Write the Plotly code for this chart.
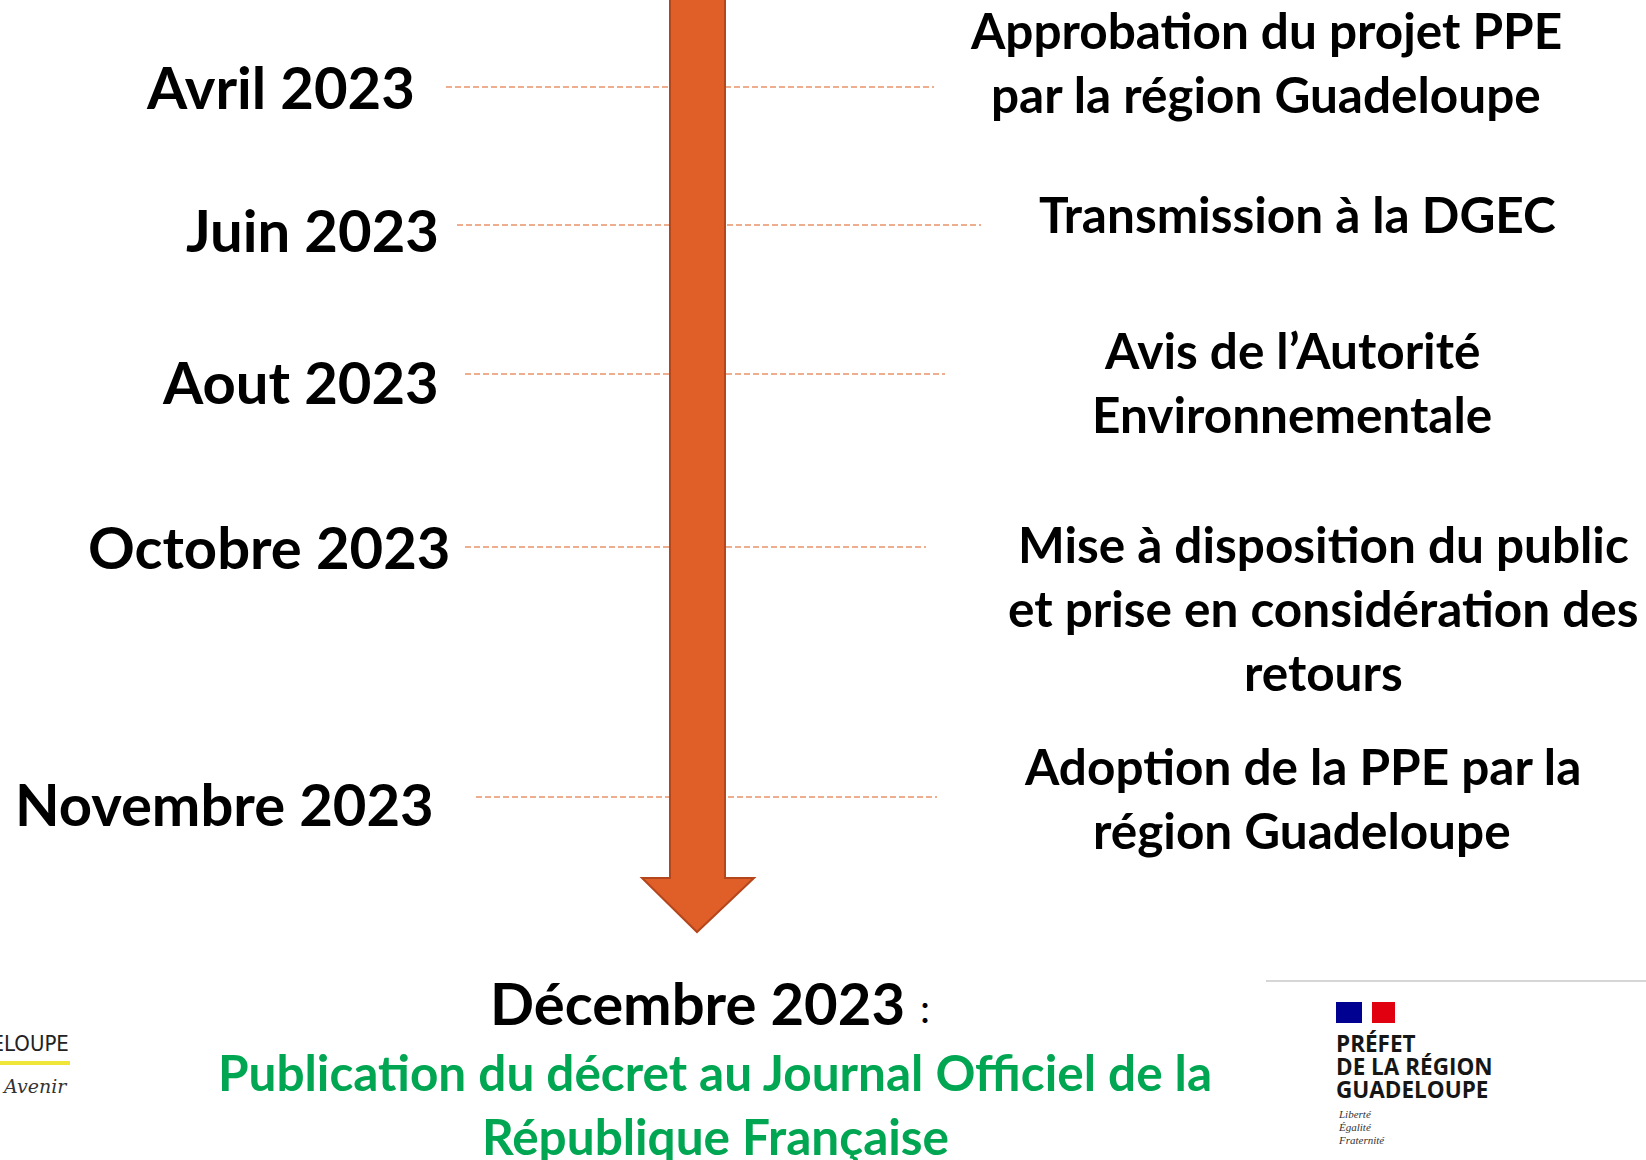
import plotly.graph_objects as go

# ---------------- data ----------------
MILESTONE_DATES = ["Avril 2023", "Juin 2023", "Aout 2023", "Octobre 2023", "Novembre 2023"]
MILESTONE_EVENTS = [
    ["Approbation du projet PPE", "par la région Guadeloupe"],
    ["Transmission à la DGEC"],
    ["Avis de l’Autorité", "Environnementale"],
    ["Mise à disposition du public", "et prise en considération des", "retours"],
    ["Adoption de la PPE par la", "région Guadeloupe"],
]
FINAL_DATE = "Décembre 2023"
FINAL_EVENT = ["Publication du décret au Journal Officiel de la", "République Française"]

# ---------------- layout (pixel canvas) ----------------
W, H = 1646, 1160
ROW_Y = [87, 225, 374, 547, 797]            # dashed connector rows
LINE_LEFT = [446, 457, 465, 465, 476]
LINE_RIGHT = [934, 981, 945, 926, 937]
DATE_RIGHT = [417, 441, 441, 452, 436]
DATE_Y = [86, 229, 381, 546, 803]
EVENT_CX = [1266, 1297, 1292, 1323, 1302]
EVENT_Y0 = [30, 214, 350, 544, 766]
EVENT_LH = 64

SHAFT_L, SHAFT_R, HEAD_Y = 670, 725, 878
HEAD_L, HEAD_R, TIP_X, TIP_Y = 642, 754, 697, 932

ORANGE = "#E05F29"
ORANGE_EDGE = "#B4461C"
DASH_COLOR = "#E9946A"
GREEN = "#00A651"
FONT = "Lato"
DATE_SIZE = 58
EVENT_SIZE = 49.5

fig = go.Figure()

# dashed connectors
for i, y in enumerate(ROW_Y):
    fig.add_trace(go.Scatter(
        x=[LINE_LEFT[i], LINE_RIGHT[i]], y=[y, y], mode="lines",
        line=dict(color=DASH_COLOR, width=1.5, dash="6px,3px"),
        hoverinfo="skip", showlegend=False))

shapes = []
# arrow
path = (f"M {SHAFT_L} -5 L {SHAFT_R} -5 L {SHAFT_R} {HEAD_Y} L {HEAD_R} {HEAD_Y} "
        f"L {TIP_X} {TIP_Y} L {HEAD_L} {HEAD_Y} L {SHAFT_L} {HEAD_Y} Z")
shapes.append(dict(type="path", path=path, xref="x", yref="y",
                   fillcolor=ORANGE, line=dict(color=ORANGE_EDGE, width=2), layer="above"))

# right logo elements
shapes.append(dict(type="line", x0=1266, x1=W, y0=981, y1=981, xref="x", yref="y",
                   line=dict(color="#C8C8C8", width=1.5)))
shapes.append(dict(type="rect", x0=1336, x1=1362, y0=1002, y1=1023, xref="x", yref="y",
                   fillcolor="#000091", line=dict(width=0)))
shapes.append(dict(type="rect", x0=1372, x1=1395, y0=1002, y1=1023, xref="x", yref="y",
                   fillcolor="#E1000F", line=dict(width=0)))
# left logo yellow bar
shapes.append(dict(type="line", x0=0, x1=70, y0=1063, y1=1063, xref="x", yref="y",
                   line=dict(color="#F0E63A", width=4)))

ann = []
for i, d in enumerate(MILESTONE_DATES):
    ann.append(dict(x=DATE_RIGHT[i], y=DATE_Y[i], text=d, xanchor="right", yanchor="middle",
                    showarrow=False, font=dict(family=FONT, size=DATE_SIZE, color="black", weight="bold")))
for i, lines in enumerate(MILESTONE_EVENTS):
    for j, t in enumerate(lines):
        ann.append(dict(x=EVENT_CX[i], y=EVENT_Y0[i] + j * EVENT_LH, text=t, xanchor="center",
                        yanchor="middle", showarrow=False,
                        font=dict(family=FONT, size=EVENT_SIZE, color="black", weight="bold")))

ann.append(dict(x=907, y=1002, text=FINAL_DATE, xanchor="right", yanchor="middle", showarrow=False,
                font=dict(family=FONT, size=DATE_SIZE, color="black", weight="bold")))
ann.append(dict(x=918, y=1008, text=":", xanchor="left", yanchor="middle", showarrow=False,
                font=dict(family=FONT, size=40, color="black")))
for j, t in enumerate(FINAL_EVENT):
    ann.append(dict(x=715, y=1072 + j * EVENT_LH, text=t, xanchor="center", yanchor="middle",
                    showarrow=False, font=dict(family=FONT, size=EVENT_SIZE, color=GREEN, weight="bold")))

# left logo text
ann.append(dict(x=71, y=1043, text="GUADELOUPE", xanchor="right", yanchor="middle", showarrow=False,
                font=dict(family="DejaVu Sans Condensed, DejaVu Sans", size=22, color="#222222")))
ann.append(dict(x=0, y=1086, text="Avenir", xanchor="left", yanchor="middle", showarrow=False,
                font=dict(family="DejaVu Serif", size=19, color="#333333", style="italic")))
# right logo text
for j, t in enumerate(["PRÉFET", "DE LA RÉGION", "GUADELOUPE"]):
    ann.append(dict(x=1334, y=1043 + j * 23, text=t, xanchor="left", yanchor="middle", showarrow=False,
                    font=dict(family="Open Sans", size=22.5, color="#161616", weight="bold")))
for j, t in enumerate(["Liberté", "Égalité", "Fraternité"]):
    ann.append(dict(x=1336, y=1114 + j * 13, text=t, xanchor="left", yanchor="middle", showarrow=False,
                    font=dict(family="Liberation Serif", size=11, color="#333333", style="italic")))

fig.update_layout(
    width=W, height=H, margin=dict(l=0, r=0, t=0, b=0),
    paper_bgcolor="white", plot_bgcolor="white",
    xaxis=dict(range=[0, W], visible=False, fixedrange=True),
    yaxis=dict(range=[H, 0], visible=False, fixedrange=True),
    shapes=shapes, annotations=ann, showlegend=False,
)

fig.write_html("out.html", config={"displayModeBar": False},
               post_script="document.body.style.margin='0';document.body.style.overflow='hidden';")
